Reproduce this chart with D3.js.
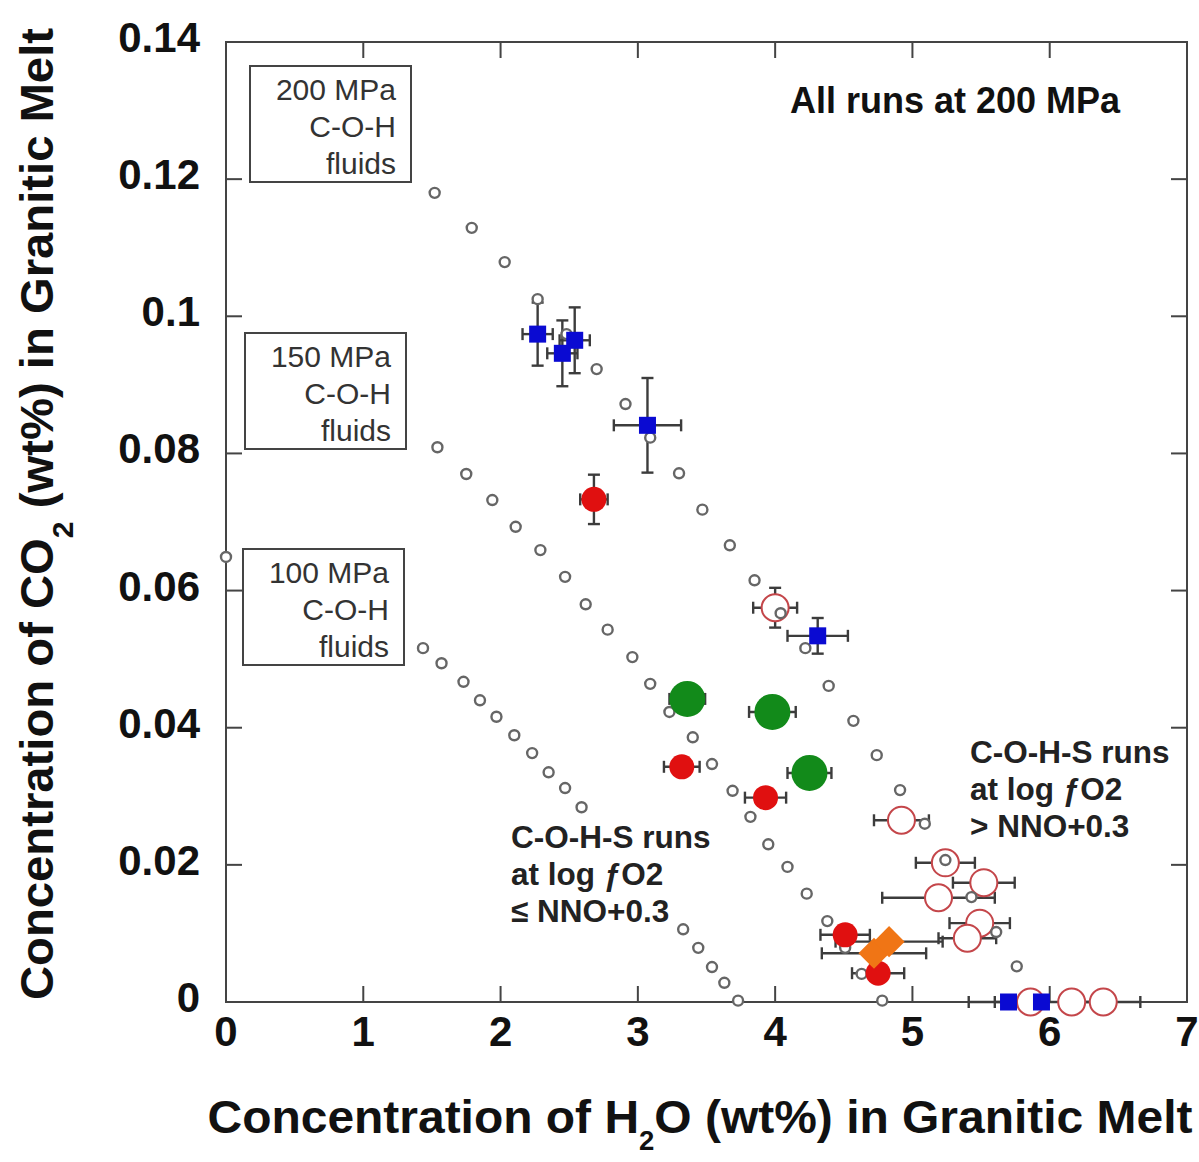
<!DOCTYPE html>
<html>
<head>
<meta charset="utf-8">
<script src="https://cdn.jsdelivr.net/npm/d3@7"></script>
<style>
  html, body { margin: 0; padding: 0; background: #fff; }
  svg { display: block; }
  text { font-family: "Liberation Sans", Arial, sans-serif; }
</style>
</head>
<body>
<div id="chart"></div>
<script>
// ---- data ----
const xTicks = [0, 1, 2, 3, 4, 5, 6, 7];
const yTicks = [0, 0.02, 0.04, 0.06, 0.08, 0.1, 0.12, 0.14];
const yTickLabels = ["0", "0.02", "0.04", "0.06", "0.08", "0.1", "0.12", "0.14"];

// model isobars (small grey circles), [H2O, CO2]
const iso200 = [[1.52,0.118],[1.79,0.1129],[2.03,0.1079],[2.27,0.1025],[2.48,0.0974],[2.70,0.0923],
  [2.91,0.0872],[3.09,0.0823],[3.30,0.0771],[3.47,0.0718],[3.67,0.0666],[3.85,0.0615],[4.04,0.0567],
  [4.22,0.0516],[4.39,0.0461],[4.57,0.0410],[4.74,0.0360],[4.91,0.0309],[5.09,0.0260],[5.24,0.0207],
  [5.43,0.0153],[5.61,0.0102],[5.76,0.0052]];
const iso150 = [[1.54,0.0809],[1.75,0.0770],[1.94,0.0732],[2.11,0.0693],[2.29,0.0659],[2.47,0.0620],
  [2.62,0.0580],[2.78,0.0543],[2.96,0.0503],[3.09,0.0464],[3.23,0.0423],[3.40,0.0386],[3.54,0.0347],
  [3.69,0.0308],[3.82,0.0270],[3.95,0.0230],[4.09,0.0197],[4.23,0.0158],[4.38,0.0118],[4.51,0.0079],
  [4.63,0.0041],[4.78,0.0002]];
const iso100 = [[0,0.0649],[1.435,0.0516],[1.57,0.0494],[1.73,0.0467],[1.85,0.0440],[1.97,0.0416],
  [2.10,0.0389],[2.23,0.0363],[2.35,0.0335],[2.47,0.0312],[2.59,0.0284],
  [3.33,0.0106],[3.44,0.0079],[3.54,0.0051],[3.63,0.0028],[3.73,0.0002]];

// experimental runs: x, y, x error, y error
const blueRuns = [
  {x:2.27,y:0.0974,xe:0.11,ye:0.0046},{x:2.45,y:0.0946,xe:0.11,ye:0.0048},
  {x:2.54,y:0.0965,xe:0.11,ye:0.0048},{x:3.07,y:0.0841,xe:0.245,ye:0.0069},
  {x:4.31,y:0.0534,xe:0.22,ye:0.0026},{x:5.70,y:0,xe:0.10,ye:0},{x:5.94,y:0,xe:0,ye:0}];
const redRuns = [
  {x:2.68,y:0.0733,xe:0.10,ye:0.0036},{x:3.32,y:0.0343,xe:0.13,ye:0},
  {x:3.93,y:0.0298,xe:0.15,ye:0},{x:4.51,y:0.0098,xe:0.18,ye:0},{x:4.75,y:0.0042,xe:0.19,ye:0}];
const greenRuns = [
  {x:3.36,y:0.0442,xe:0.13,ye:0},{x:3.98,y:0.0423,xe:0.17,ye:0},{x:4.25,y:0.0334,xe:0.16,ye:0}];
const orangeRuns = [
  {x:4.72,y:0.0071,xe:0.38,ye:0},{x:4.83,y:0.0088,xe:0.39,ye:0}];
const openRuns = [
  {x:4.00,y:0.0575,xe:0.16,ye:0.0029},{x:4.92,y:0.0265,xe:0.20,ye:0},
  {x:5.24,y:0.0203,xe:0.215,ye:0},{x:5.52,y:0.0174,xe:0.225,ye:0},
  {x:5.19,y:0.0152,xe:0.41,ye:0},{x:5.49,y:0.0115,xe:0.22,ye:0},
  {x:5.40,y:0.0093,xe:0.21,ye:0},{x:5.86,y:0,xe:0.45,ye:0},
  {x:6.16,y:0,xe:0,ye:0},{x:6.39,y:0,xe:0.27,ye:0}];

const isoBoxes = [
  {lines:["200 MPa","C-O-H","fluids"], x0:250, y0:66},
  {lines:["150 MPa","C-O-H","fluids"], x0:245, y0:333},
  {lines:["100 MPa","C-O-H","fluids"], x0:243, y0:549}];

// ---- layout ----
const W = 1199, H = 1162;
const x = d3.scaleLinear().domain([0, 7]).range([226, 1187]);
const y = d3.scaleLinear().domain([0, 0.14]).range([1002, 42]);

const svg = d3.select("#chart").append("svg").attr("width", W).attr("height", H);
const FRAME = "#444";

// frame
svg.append("rect").attr("x", x(0)).attr("y", y(0.14))
  .attr("width", x(7) - x(0)).attr("height", y(0) - y(0.14))
  .attr("fill", "none").attr("stroke", FRAME).attr("stroke-width", 2);

// inward ticks on all four sides
const TL = 16;
const tg = svg.append("g").attr("stroke", FRAME).attr("stroke-width", 2);
xTicks.forEach(t => {
  tg.append("line").attr("x1", x(t)).attr("x2", x(t)).attr("y1", y(0)).attr("y2", y(0) - TL);
  tg.append("line").attr("x1", x(t)).attr("x2", x(t)).attr("y1", y(0.14)).attr("y2", y(0.14) + TL);
});
yTicks.forEach(t => {
  tg.append("line").attr("y1", y(t)).attr("y2", y(t)).attr("x1", x(0)).attr("x2", x(0) + TL);
  tg.append("line").attr("y1", y(t)).attr("y2", y(t)).attr("x1", x(7)).attr("x2", x(7) - TL);
});

// tick labels
svg.append("g").selectAll("text").data(xTicks).join("text")
  .attr("x", d => x(d)).attr("y", 1046).attr("text-anchor", "middle")
  .attr("font-size", 42).attr("font-weight", "bold").attr("fill", "#111")
  .text(d => d);
svg.append("g").selectAll("text").data(yTicks).join("text")
  .attr("x", 200).attr("y", d => y(d) + 10).attr("text-anchor", "end")
  .attr("font-size", 42).attr("font-weight", "bold").attr("fill", "#111")
  .text((d, i) => yTickLabels[i]);

// axis titles
const xt = svg.append("text").attr("x", 700).attr("y", 1133).attr("text-anchor", "middle")
  .attr("font-size", 47).attr("font-weight", "bold").attr("fill", "#111")
  .attr("textLength", 985).attr("lengthAdjust", "spacingAndGlyphs");
xt.append("tspan").text("Concentration of H");
xt.append("tspan").attr("dy", 17).attr("font-size", 27).text("2");
xt.append("tspan").attr("dy", -17).text("O (wt%) in Granitic Melt");

const yt = svg.append("text").attr("transform", "translate(53,514) rotate(-90)")
  .attr("text-anchor", "middle")
  .attr("font-size", 47).attr("font-weight", "bold").attr("fill", "#111")
  .attr("textLength", 972).attr("lengthAdjust", "spacingAndGlyphs");
yt.append("tspan").text("Concentration of CO");
yt.append("tspan").attr("dy", 20).attr("font-size", 30).text("2");
yt.append("tspan").attr("dy", -20).text(" (wt%) in Granitic Melt");

// isobar label boxes
isoBoxes.forEach(b => {
  svg.append("rect").attr("x", b.x0).attr("y", b.y0).attr("width", 161).attr("height", 116)
    .attr("fill", "#fff").attr("stroke", FRAME).attr("stroke-width", 2);
  b.lines.forEach((l, i) => {
    svg.append("text").attr("x", b.x0 + 146).attr("y", b.y0 + 34 + i * 37)
      .attr("text-anchor", "end").attr("font-size", 30).attr("fill", "#333").text(l);
  });
});

// annotations
svg.append("text").attr("x", 790).attr("y", 113).attr("font-size", 36)
  .attr("font-weight", "bold").attr("fill", "#111").text("All runs at 200 MPa");

function block(x0, y0, lines) {
  lines.forEach((l, i) => {
    svg.append("text").attr("x", x0).attr("y", y0 + i * 37).attr("font-size", 31.5)
      .attr("font-weight", "bold").attr("fill", "#222").text(l);
  });
}
block(511, 848, ["C-O-H-S runs", "at log \u0192O2", "\u2264 NNO+0.3"]);
block(970, 763, ["C-O-H-S runs", "at log \u0192O2", "> NNO+0.3"]);

// error bars
const allRuns = [].concat(blueRuns, redRuns, greenRuns, orangeRuns, openRuns);
const eb = svg.append("g").attr("stroke", "#3c3c3c").attr("stroke-width", 2.4).attr("fill", "none");
const CAP = 6;
allRuns.forEach(d => {
  if (d.xe > 0) {
    const xa = x(d.x - d.xe), xb = x(d.x + d.xe), yy = y(d.y);
    eb.append("line").attr("x1", xa).attr("x2", xb).attr("y1", yy).attr("y2", yy);
    eb.append("line").attr("x1", xa).attr("x2", xa).attr("y1", yy - CAP).attr("y2", yy + CAP);
    eb.append("line").attr("x1", xb).attr("x2", xb).attr("y1", yy - CAP).attr("y2", yy + CAP);
  }
  if (d.ye > 0) {
    const ya = y(d.y - d.ye), yb = y(d.y + d.ye), xx = x(d.x);
    eb.append("line").attr("x1", xx).attr("x2", xx).attr("y1", ya).attr("y2", yb);
    eb.append("line").attr("y1", ya).attr("y2", ya).attr("x1", xx - CAP).attr("x2", xx + CAP);
    eb.append("line").attr("y1", yb).attr("y2", yb).attr("x1", xx - CAP).attr("x2", xx + CAP);
  }
});

// open red circles (oxidised runs)
svg.append("g").selectAll("circle").data(openRuns).join("circle")
  .attr("cx", d => x(d.x)).attr("cy", d => y(d.y)).attr("r", 13.5)
  .attr("fill", "#fff").attr("stroke", "#c4464a").attr("stroke-width", 2);

// model isobars
svg.append("g").selectAll("circle").data([].concat(iso200, iso150, iso100)).join("circle")
  .attr("cx", d => x(d[0])).attr("cy", d => y(d[1])).attr("r", 5)
  .attr("fill", "#fff").attr("stroke", "#666").attr("stroke-width", 2.4);

// filled markers
svg.append("g").selectAll("circle").data(greenRuns).join("circle")
  .attr("cx", d => x(d.x)).attr("cy", d => y(d.y)).attr("r", 18).attr("fill", "#128a1a");
svg.append("g").selectAll("circle").data(redRuns).join("circle")
  .attr("cx", d => x(d.x)).attr("cy", d => y(d.y)).attr("r", 12.5).attr("fill", "#e01010");
svg.append("g").selectAll("rect").data(orangeRuns).join("rect")
  .attr("x", -11).attr("y", -11).attr("width", 22).attr("height", 22)
  .attr("transform", d => `translate(${x(d.x)},${y(d.y)}) rotate(45)`)
  .attr("fill", "#f07515");
svg.append("g").selectAll("rect").data(blueRuns).join("rect")
  .attr("x", d => x(d.x) - 8.5).attr("y", d => y(d.y) - 8.5)
  .attr("width", 17).attr("height", 17).attr("fill", "#0a0ad2");
</script>
</body>
</html>
